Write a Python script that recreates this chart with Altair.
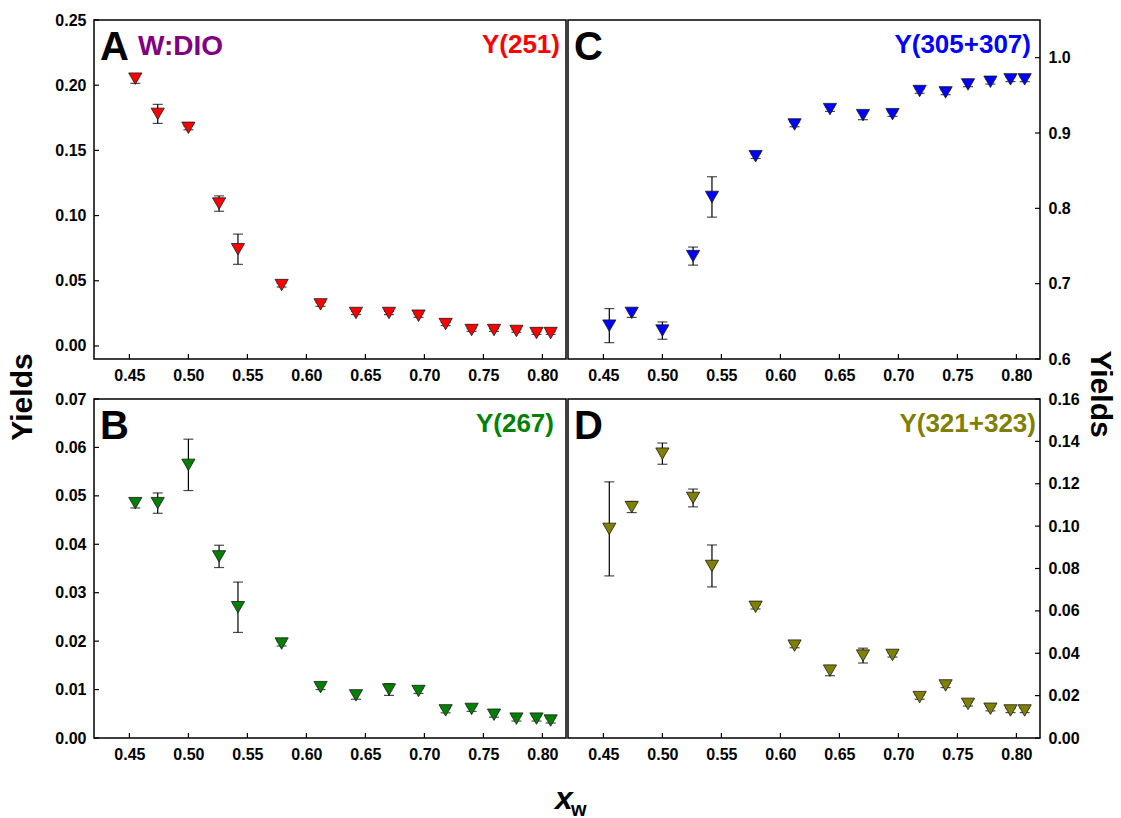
import altair as alt
import pandas as pd

# water mole fraction (shared by all four panels)
xw = [0.455, 0.474, 0.500, 0.526, 0.542, 0.579, 0.612, 0.642, 0.670, 0.695,
      0.718, 0.740, 0.759, 0.778, 0.795, 0.807]

# A: Y(251)
y251 = [0.2050, 0.1780, 0.1673, 0.1092, 0.0742, 0.0467, 0.0319, 0.0253, 0.0253,
        0.0232, 0.0168, 0.0122, 0.0122, 0.0115, 0.0099, 0.0099]
e251 = [0.0036, 0.0073, 0.0015, 0.0059, 0.0116, 0.0015, 0.0015, 0.0012, 0.0012,
        0.0012, 0.0012, 0.0010, 0.0010, 0.0010, 0.0010, 0.0010]

# B: Y(267)
y267 = [0.0485, 0.0485, 0.0564, 0.0375, 0.0270, 0.0195, 0.0105, 0.0088, 0.0100,
        0.0097, 0.0057, 0.0060, 0.0048, 0.0040, 0.0040, 0.0036]
e267 = [0.0010, 0.0021, 0.0053, 0.0023, 0.0052, 0.0005, 0.0005, 0.0008, 0.0012,
        0.0005, 0.0005, 0.0005, 0.0005, 0.0005, 0.0005, 0.0005]

# C: Y(305+307)
y305 = [0.6443, 0.6612, 0.6377, 0.7366, 0.8151, 0.8692, 0.9113, 0.9317, 0.9237,
        0.9250, 0.9557, 0.9539, 0.9645, 0.9680, 0.9712, 0.9712]
e305 = [0.0226, 0.0060, 0.0115, 0.0120, 0.0268, 0.0030, 0.0030, 0.0030, 0.0060,
        0.0030, 0.0030, 0.0030, 0.0030, 0.0030, 0.0030, 0.0030]

# D: Y(321+323)
y321 = [0.0987, 0.1090, 0.1342, 0.1133, 0.0812, 0.0619, 0.0436, 0.0318, 0.0389,
        0.0392, 0.0193, 0.0248, 0.0161, 0.0138, 0.0130, 0.0130]
e321 = [0.0222, 0.0026, 0.0050, 0.0042, 0.0099, 0.0010, 0.0010, 0.0024, 0.0035,
        0.0010, 0.0010, 0.0010, 0.0010, 0.0010, 0.0010, 0.0010]

x_ticks = [0.45, 0.50, 0.55, 0.60, 0.65, 0.70, 0.75, 0.80]
ticks_A = [0.00, 0.05, 0.10, 0.15, 0.20, 0.25]
ticks_B = [0.00, 0.01, 0.02, 0.03, 0.04, 0.05, 0.06, 0.07]
ticks_C = [0.6, 0.7, 0.8, 0.9, 1.0]
ticks_D = [0.00, 0.02, 0.04, 0.06, 0.08, 0.10, 0.12, 0.14, 0.16]

FONT = "Liberation Sans"
W, H = 472, 339
TICK = 5


def panel(y, err, color, ydom, yticks, yfmt, side, letter, label, extras=()):
    df = pd.DataFrame({"x": xw, "y": y,
                       "lo": [a - b for a, b in zip(y, err)],
                       "hi": [a + b for a, b in zip(y, err)]})
    xs = alt.Scale(domain=[0.42, 0.82], nice=False, zero=False)
    ys = alt.Scale(domain=ydom, nice=False, zero=False)
    xax = alt.Axis(values=x_ticks, format=".2f", title=None)
    yax = alt.Axis(values=yticks, format=yfmt, orient=side, title=None)
    X = alt.X("x:Q", scale=xs, axis=xax)

    base = alt.Chart(df)
    bars = base.mark_rule(color="black", strokeWidth=1.2).encode(
        x=X, y=alt.Y("lo:Q", scale=ys, axis=yax), y2="hi:Q")
    cap_lo = base.mark_tick(orient="horizontal", size=10, thickness=1.2,
                            color="black").encode(
        x=X, y=alt.Y("lo:Q", scale=ys, axis=yax))
    cap_hi = base.mark_tick(orient="horizontal", size=10, thickness=1.2,
                            color="black").encode(
        x=X, y=alt.Y("hi:Q", scale=ys, axis=yax))
    pts = base.mark_point(shape="triangle-down", filled=True, size=175,
                          fill=color, stroke="#1a1a1a", strokeWidth=0.8,
                          opacity=1).encode(
        x=X, y=alt.Y("y:Q", scale=ys, axis=yax))

    # inward tick marks on the y axis
    ydf = pd.DataFrame({"v": yticks})
    if side == "left":
        tx, tx2 = 0, TICK
    else:
        tx, tx2 = W - TICK, W
    yt = alt.Chart(ydf).mark_rule(color="black", strokeWidth=1.2).encode(
        y=alt.Y("v:Q", scale=ys, axis=yax), x=alt.value(tx), x2=alt.value(tx2))
    # inward tick marks on the x axis
    xdf = pd.DataFrame({"v": x_ticks})
    xt = alt.Chart(xdf).mark_rule(color="black", strokeWidth=1.2).encode(
        x=alt.X("v:Q", scale=xs, axis=xax), y=alt.value(H - TICK),
        y2=alt.value(H))

    lt = alt.Chart(pd.DataFrame({"t": [letter]})).mark_text(
        align="left", baseline="alphabetic", font=FONT, fontSize=40,
        fontWeight="bold", color="black").encode(
        text="t:N", x=alt.value(6), y=alt.value(40))
    name, ncolor, nx, ny = label
    nt = alt.Chart(pd.DataFrame({"t": [name]})).mark_text(
        align="right", baseline="alphabetic", font=FONT, fontSize=26,
        fontWeight="bold", color=ncolor).encode(
        text="t:N", x=alt.value(nx), y=alt.value(ny))

    layers = [bars, cap_lo, cap_hi, pts, yt, xt, lt, nt] + list(extras)
    return alt.layer(*layers).properties(width=W, height=H)


def note(text, x, y, size, color="black", angle=0, align="center",
         baseline="middle", italic=False):
    kw = dict(align=align, baseline=baseline, font=FONT, fontSize=size,
              fontWeight="bold", color=color)
    if angle:
        kw["angle"] = angle
    if italic:
        kw["fontStyle"] = "italic"
    return alt.Chart(pd.DataFrame({"t": [text]})).mark_text(**kw).encode(
        text="t:N", x=alt.value(x), y=alt.value(y))


pA = panel(y251, e251, "#ff0000", [-0.01, 0.25], ticks_A, ".2f", "left", "A",
           ("Y(251)", "#ff0000", W - 6, 33),
           extras=[note("W:DIO", 44, 35, 28, color="#800080", align="left",
                        baseline="alphabetic"),
                   note("Yields", -71, 377, 30, angle=270)])
pC = panel(y305, e305, "#0000ff", [0.6, 1.05], ticks_C, ".1f", "right", "C",
           ("Y(305+307)", "#0000ff", W - 9, 33),
           extras=[note("Yields", 532, 374, 30, angle=90)])
pB = panel(y267, e267, "#008000", [0.0, 0.07], ticks_B, ".2f", "left", "B",
           ("Y(267)", "#008000", W - 12, 33),
           extras=[note("x", 461, 410, 32, align="left",
                        baseline="alphabetic", italic=True),
                   note("w", 477, 417, 20, align="left",
                        baseline="alphabetic")])
pD = panel(y321, e321, "#808000", [0.0, 0.16], ticks_D, ".2f", "right", "D",
           ("Y(321+323)", "#808000", W - 4, 33))

chart = alt.concat(pA, pC, pB, pD, columns=2, bounds="flush",
                   spacing={"row": 40, "column": 2}).configure_view(
    stroke="black", strokeWidth=1.5
).configure_axis(
    labelFont=FONT, labelFontSize=16, labelFontWeight="bold",
    labelColor="black", ticks=False, domain=False, grid=False, labelPadding=8
).properties(background="white", padding={"left": 7, "top": 11, "right": 5, "bottom": 0})

chart.save("out.html", embed_options={"renderer": "svg", "actions": False})
